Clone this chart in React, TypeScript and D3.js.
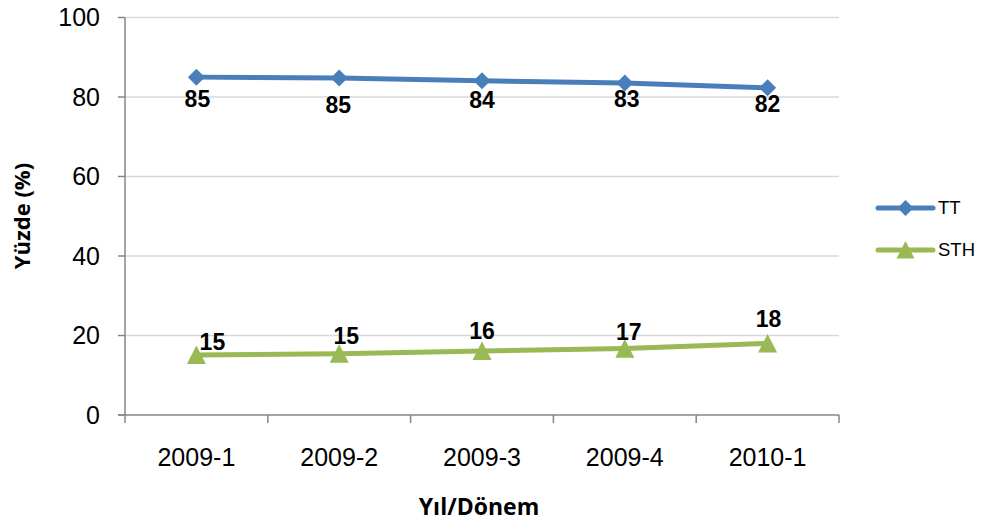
import React from "react";
import * as d3 from "d3";

const categories = ["2009-1", "2009-2", "2009-3", "2009-4", "2010-1"];
const ttValues = [85.0, 84.8, 84.1, 83.5, 82.3];
const sthValues = [15.1, 15.4, 16.1, 16.7, 18.0];
const ttLabels = ["85", "85", "84", "83", "82"];
const sthLabels = ["15", "15", "16", "17", "18"];
const yTicks = [0, 20, 40, 60, 80, 100];

// label offsets (style, relative to points)
const ttLabelOff = [[1, 30], [-1, 35], [0, 27], [2, 24], [0, 24]];
const sthLabelOff = [[16, -5], [7, -10], [0, -12], [4, -9], [1, -16]];

const W = 984, H = 525;
const left = 125, right = 839, top = 17.5, bottom = 415;
const BLUE = "#4A7EBB";
const GREEN = "#98B954";

export default function App() {
  const x = d3.scaleBand().domain(categories).range([left, right]);
  const y = d3.scaleLinear().domain([0, 100]).range([bottom, top]);
  const cx = (c: string) => (x(c) as number) + x.bandwidth() / 2;
  const line = d3.line<[string, number]>().x(d => cx(d[0])).y(d => y(d[1]));
  const tt = categories.map((c, i) => [c, ttValues[i]] as [string, number]);
  const sth = categories.map((c, i) => [c, sthValues[i]] as [string, number]);
  const diamond = (px: number, py: number, r = 8.5) =>
    `M${px},${py - r}L${px + r},${py}L${px},${py + r}L${px - r},${py}Z`;
  const tri = (px: number, py: number, s = 9.5) =>
    `M${px},${py - s}L${px + s},${py + s * 0.95}L${px - s},${py + s * 0.95}Z`;
  const bounds = [...categories.map(c => x(c) as number), right];
  const arial = "'Liberation Sans', Arial, sans-serif";

  return (
    <svg width={W} height={H} style={{ position: "absolute", left: 0, top: 0, background: "#fff" }}>
      {yTicks.filter(t => t > 0).map(t => (
        <line key={"g" + t} x1={left} x2={right} y1={y(t)} y2={y(t)} stroke="#D9D9D9" strokeWidth={1.5} />
      ))}
      <line x1={left} x2={left} y1={top} y2={bottom} stroke="#868686" strokeWidth={1.5} />
      <line x1={left - 7} x2={right} y1={bottom} y2={bottom} stroke="#868686" strokeWidth={1.5} />
      {yTicks.map(t => (
        <g key={"t" + t}>
          <line x1={left - 7} x2={left} y1={y(t)} y2={y(t)} stroke="#868686" strokeWidth={1.5} />
          <text x={100} y={y(t)} dy="0.35em" textAnchor="end" fontFamily={arial} fontSize={25} fill="#000">{t}</text>
        </g>
      ))}
      {bounds.map((b, i) => (
        <line key={"xt" + i} x1={b} x2={b} y1={bottom} y2={bottom + 8} stroke="#868686" strokeWidth={1.5} />
      ))}
      {categories.map(c => (
        <text key={"xl" + c} x={cx(c)} y={466} textAnchor="middle" fontFamily={arial} fontSize={25} fill="#000">{c}</text>
      ))}
      <text x={0} y={0} transform={`translate(30,216) rotate(-90)`} textAnchor="middle" fontFamily="'Open Sans', sans-serif" fontWeight={700} fontSize={22} fill="#000">Yüzde (%)</text>
      <text x={479} y={515} textAnchor="middle" fontFamily="'Open Sans', sans-serif" fontWeight={700} fontSize={23} fill="#000">Yıl/Dönem</text>

      <path d={line(tt) || ""} fill="none" stroke={BLUE} strokeWidth={5} strokeLinejoin="round" strokeLinecap="round" />
      <path d={line(sth) || ""} fill="none" stroke={GREEN} strokeWidth={5} strokeLinejoin="round" strokeLinecap="round" />
      {tt.map((d, i) => <path key={"dm" + i} d={diamond(cx(d[0]), y(d[1]))} fill={BLUE} />)}
      {sth.map((d, i) => <path key={"tr" + i} d={tri(cx(d[0]), y(d[1]))} fill={GREEN} />)}
      {tt.map((d, i) => (
        <text key={"tl" + i} x={cx(d[0]) + ttLabelOff[i][0]} y={y(d[1]) + ttLabelOff[i][1]} textAnchor="middle" fontFamily={arial} fontWeight={700} fontSize={23} fill="#000">{ttLabels[i]}</text>
      ))}
      {sth.map((d, i) => (
        <text key={"sl" + i} x={cx(d[0]) + sthLabelOff[i][0]} y={y(d[1]) + sthLabelOff[i][1]} textAnchor="middle" fontFamily={arial} fontWeight={700} fontSize={23} fill="#000">{sthLabels[i]}</text>
      ))}

      <line x1={878} x2={933} y1={208} y2={208} stroke={BLUE} strokeWidth={5} strokeLinecap="round" />
      <path d={diamond(905.5, 208, 8)} fill={BLUE} />
      <text x={938} y={208} dy="0.35em" fontFamily={arial} fontSize={18.5} fill="#000">TT</text>
      <line x1={878} x2={933} y1={250} y2={250} stroke={GREEN} strokeWidth={5} strokeLinecap="round" />
      <path d={tri(905.5, 250, 9)} fill={GREEN} />
      <text x={938} y={250} dy="0.35em" fontFamily={arial} fontSize={18.5} fill="#000">STH</text>
    </svg>
  );
}
